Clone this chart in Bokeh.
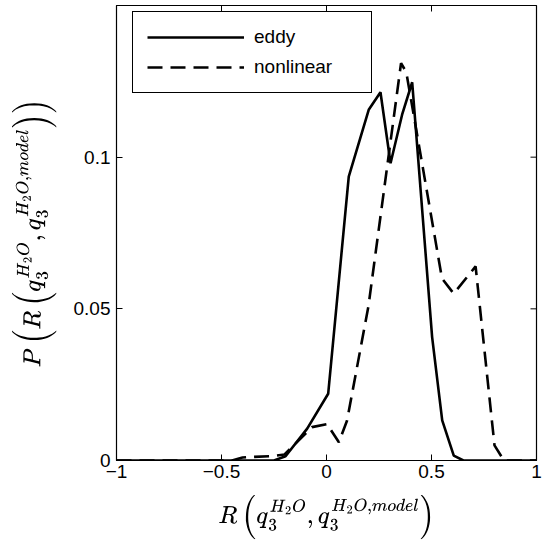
from bokeh.plotting import figure
from bokeh.models import FixedTicker, Legend, LegendItem, Range1d
from bokeh.embed import file_html
from bokeh.resources import INLINE

# eddy distribution
eddy_r = [-1.0, -0.25, -0.195, -0.092, 0.008, 0.106, 0.201, 0.257, 0.305, 0.36, 0.408, 0.503, 0.551, 0.606, 0.652, 1.0]
eddy_p = [0.0, 0.0, 0.0014, 0.0105, 0.022, 0.0936, 0.1156, 0.1214, 0.098, 0.114, 0.1247, 0.0407, 0.0132, 0.0016, 0.0, 0.0]

# nonlinear distribution
nonlin_r = [-1.0, -0.45, -0.4, -0.25, -0.2, -0.069, 0.003, 0.059, 0.098, 0.2, 0.355, 0.38, 0.45, 0.55, 0.606, 0.71, 0.8, 0.845, 1.0]
nonlin_p = [0.0, 0.0, 0.001, 0.0015, 0.002, 0.011, 0.012, 0.006, 0.0132, 0.051, 0.131, 0.128, 0.1, 0.06, 0.055, 0.064, 0.005, 0.0, 0.0]

x_ticks = [-1, -0.5, 0, 0.5, 1]
x_tick_labels = ["\u22121", "\u22120.5", "0", "0.5", "1"]
y_ticks = [0, 0.05, 0.1]
y_tick_labels = ["0", "0.05", "0.1"]

X_MIN, X_MAX = -1, 1
Y_MIN, Y_MAX = 0, 0.15

FONT = "Liberation Sans"
W, H = 545, 550
BL, BR, BT, BB = 116, 9, 5, 90

p = figure(width=W, height=H, output_backend="svg", toolbar_location=None,
           x_range=Range1d(X_MIN, X_MAX), y_range=Range1d(Y_MIN, Y_MAX),
           min_border_left=BL, min_border_right=BR, min_border_top=BT, min_border_bottom=BB)
p.grid.visible = False
p.outline_line_color = "black"
p.outline_line_width = 1.2
p.outline_line_alpha = 1
p.background_fill_color = "white"
p.border_fill_color = "white"

for ax in (p.xaxis[0], p.yaxis[0]):
    ax.major_tick_in = 6
    ax.major_tick_out = 0
    ax.minor_tick_in = 0
    ax.minor_tick_out = 0
    ax.major_label_text_font = FONT
    ax.major_label_text_font_size = "19px"
    ax.major_label_text_color = "black"
    ax.axis_line_color = "black"
    ax.major_tick_line_color = "black"
    ax.axis_label_text_color = "black"

p.xaxis.ticker = FixedTicker(ticks=x_ticks)
p.xaxis.major_label_overrides = {t: l for t, l in zip(x_ticks, x_tick_labels)}
p.yaxis.ticker = FixedTicker(ticks=y_ticks)
p.yaxis.major_label_overrides = {t: l for t, l in zip(y_ticks, y_tick_labels)}
p.xaxis.major_label_standoff = 4
p.yaxis.major_label_standoff = 6

p.xaxis.axis_label = r"$$R\left(q_3^{H_2O}, q_3^{H_2O,model}\right)$$"
p.yaxis.axis_label = r"$$P\left(R\left(q_3^{H_2O}, q_3^{H_2O,model}\right)\right)$$"
p.xaxis.axis_label_text_font_size = "20px"
p.yaxis.axis_label_text_font_size = "20px"
p.xaxis.axis_label_standoff = 14
p.yaxis.axis_label_standoff = 14

# mirrored inward ticks on the top and right edges (6 px long)
frame_w = W - BL - BR
frame_h = H - BT - BB
tick_dy = 6 * (Y_MAX - Y_MIN) / frame_h
tick_dx = 6 * (X_MAX - X_MIN) / frame_w
p.segment(x0=x_ticks, x1=x_ticks, y0=[Y_MAX] * len(x_ticks), y1=[Y_MAX - tick_dy] * len(x_ticks),
          line_color="black", line_width=1)
p.segment(x0=[X_MAX] * len(y_ticks), x1=[X_MAX - tick_dx] * len(y_ticks), y0=y_ticks, y1=y_ticks,
          line_color="black", line_width=1)

r1 = p.line(eddy_r, eddy_p, line_color="black", line_width=2.6)
r2 = p.line(nonlin_r, nonlin_p, line_color="black", line_width=2.6, line_dash="15 8")

legend = Legend(items=[LegendItem(label="eddy", renderers=[r1]),
                       LegendItem(label="nonlinear", renderers=[r2])],
                location=(16, 367))
legend.label_text_font = FONT
legend.label_text_font_size = "19px"
legend.label_text_color = "black"
legend.glyph_width = 97
legend.glyph_height = 20
legend.label_height = 20
legend.label_width = 103
legend.label_standoff = 10
legend.spacing = 8
legend.padding = 14
legend.margin = 0
legend.border_line_color = "black"
legend.border_line_alpha = 1
legend.border_line_width = 1.2
legend.background_fill_alpha = 1
p.add_layout(legend, "center")

open("out.html", "w").write(file_html(p, INLINE))
